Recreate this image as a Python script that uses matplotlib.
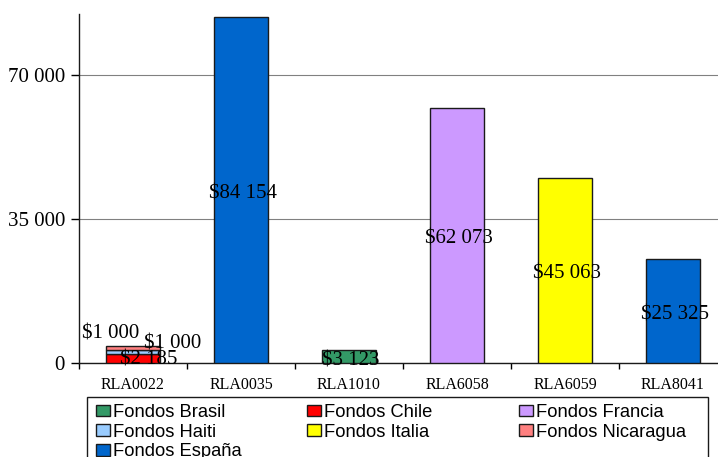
import matplotlib
matplotlib.use("Agg")
import matplotlib.pyplot as plt
from matplotlib.patches import Patch, Rectangle
import numpy as np

categories = ["RLA0022", "RLA0035", "RLA1010", "RLA6058", "RLA6059", "RLA8041"]
series_names = ["Fondos Brasil", "Fondos Chile", "Fondos Francia", "Fondos Haiti",
                "Fondos Italia", "Fondos Nicaragua", "Fondos España"]
brasil = [0, 0, 3123, 0, 0, 0]
chile = [2185, 0, 0, 0, 0, 0]
francia = [0, 0, 0, 62073, 0, 0]
haiti = [1000, 0, 0, 0, 0, 0]
italia = [0, 0, 0, 0, 45063, 0]
nicaragua = [1000, 0, 0, 0, 0, 0]
espana = [0, 84154, 0, 0, 0, 25325]
series_values = [brasil, chile, francia, haiti, italia, nicaragua, espana]
y_ticks = [0, 35000, 70000]
y_tick_labels = ["0", "35 000", "70 000"]

colors = ["#339966", "#FF0000", "#CC99FF", "#99CCFF", "#FFFF00", "#FF8080", "#0066CC"]
# label offsets (pixels) for crowded labels: (series index, category index) -> (dx, dy)
label_offsets = {(1, 0): (16, -1), (3, 0): (40, 8), (5, 0): (-22, 14)}
default_offset = (2, -4)

W, H = 718, 457
fig = plt.figure(figsize=(W / 100, H / 100), dpi=100)
ax = fig.add_axes([79 / W, (H - 363) / H, 648 / W, (363 - 13.5) / H])

x = np.arange(len(categories))
bottom = np.zeros(len(categories))
serif = "Liberation Serif"
for si, (vals, col) in enumerate(zip(series_values, colors)):
    vals = np.array(vals, dtype=float)
    idx = np.nonzero(vals)[0]
    ax.bar(x[idx], vals[idx], width=0.5, bottom=bottom[idx], color=col,
           edgecolor="#1a1a1a", linewidth=1.0, zorder=3)
    for i in idx:
        v = vals[i]
        txt = "$" + f"{int(v):,}".replace(",", " ")
        dx, dy = label_offsets.get((si, i), default_offset)
        ax.annotate(txt, (x[i], bottom[i] + v / 2), xytext=(dx, dy),
                    textcoords="offset pixels", ha="center", va="center",
                    fontsize=15, family=serif, color="black", zorder=5)
    bottom = bottom + vals

ax.set_xlim(-0.5, len(categories) - 0.5)
ax.set_ylim(0, 85000)
ax.set_yticks(y_ticks)
ax.set_yticklabels(y_tick_labels, family=serif, fontsize=15)
ax.set_xticks(x)
ax.set_xticklabels(categories, family=serif, fontsize=11.5)
ax.set_xticks(np.arange(len(categories) + 1) - 0.5, minor=True)
ax.tick_params(axis="x", which="major", length=0, pad=10)
ax.tick_params(axis="x", which="minor", length=4, width=1, direction="out")
ax.tick_params(axis="y", which="major", length=6, width=1, direction="out", pad=4)
ax.yaxis.grid(True, color="#808080", linewidth=0.8, zorder=0)
ax.set_axisbelow(True)
for s in ["top", "right"]:
    ax.spines[s].set_visible(False)
for s in ["left", "bottom"]:
    ax.spines[s].set_color("#1a1a1a")
    ax.spines[s].set_linewidth(1.0)

# legend: three columns, row-major order like the original
handles = [Patch(facecolor=c, edgecolor="#1a1a1a", linewidth=1.0) for c in colors]
cols = [[0, 3, 6], [1, 4], [2, 5]]
col_x = [96, 307, 519]
for cidx, xs in zip(cols, col_x):
    fig.legend([handles[k] for k in cidx], [series_names[k] for k in cidx],
               loc="upper left", bbox_to_anchor=(xs / W, (H - 404) / H),
               frameon=False, borderpad=0, borderaxespad=0,
               handlelength=0.75, handleheight=0.62, handletextpad=0.2,
               labelspacing=0.14,
               prop={"family": "Liberation Sans", "size": 13.2})
fig.patches.append(Rectangle((87 / W, (H - 462) / H), 621 / W, (462 - 397) / H,
                             transform=fig.transFigure, fill=False,
                             edgecolor="#1a1a1a", linewidth=1.0))

fig.savefig("out.png", dpi=100)
